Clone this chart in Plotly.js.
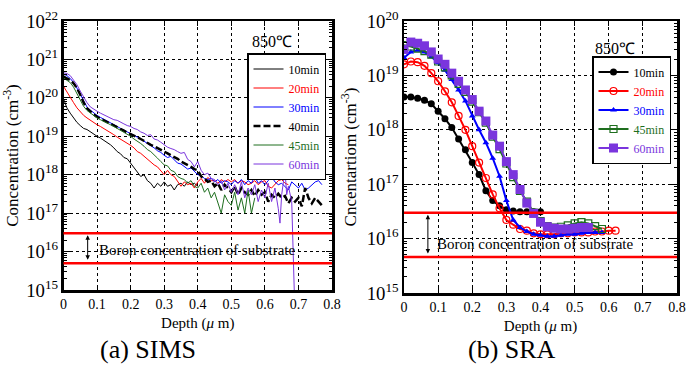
<!DOCTYPE html>
<html>
<head>
<meta charset="utf-8">
<script src="https://cdn.plot.ly/plotly-3.0.1.min.js"></script>
<style>html,body{margin:0;padding:0;background:#fff;}#chart{width:686px;height:371px;}</style>
</head>
<body>
<div id="chart"></div>
<script>
// ---------- SIMS (left) ----------
const simsDepth = [0.00,0.01,0.02,0.03,0.04,0.05,0.06,0.07,0.08,0.09,0.10,0.11,0.12,0.13,0.14,0.15,0.16,0.17,0.18,0.19,
  0.20,0.21,0.22,0.23,0.24,0.25,0.26,0.27,0.28,0.29,0.30,0.31,0.32,0.33,0.34,0.35,0.36,0.37,0.38,0.39,
  0.40,0.41,0.42,0.43,0.44,0.45,0.46,0.47,0.48,0.49,0.50,0.51,0.52,0.53,0.54,0.55,0.56,0.57,0.58,0.59,
  0.60,0.61,0.62,0.63,0.64,0.65,0.66,0.67,0.68,0.69,0.70,0.71,0.72,0.73,0.74,0.75,0.76,0.77];

const sims10 = [9.5e19,5.5e19,4.0e19,3.0e19,2.3e19,1.9e19,1.6e19,1.5e19,1.3e19,1.1e19,1.0e19,9.0e18,8.0e18,7.0e18,6.0e18,5.0e18,4.0e18,3.5e18,2.8e18,2.6e18,
  2.0e18,1.6e18,1.2e18,9.0e17,1.0e18,7.0e17,6.0e17,4.5e17,6.0e17,5.0e17,6.5e17,5.0e17,5.5e17,4.0e17,5.5e17,6.0e17,5.0e17,6.5e17,5.5e17,6.0e17,5.0e17];

const sims20 = [2.0e20,1.4e20,1.0e20,7.5e19,5.5e19,4.3e19,3.5e19,3.0e19,2.6e19,2.3e19,2.0e19,1.8e19,1.6e19,1.4e19,1.25e19,1.1e19,9.5e18,8.5e18,7.5e18,6.5e18,
  5.8e18,5.0e18,4.0e18,3.6e18,3.0e18,2.5e18,2.2e18,1.8e18,1.6e18,1.3e18,1.0e18,1.3e18,1.0e18,9.0e17,6.5e17,5.0e17,6.5e17,5.5e17,6.0e17,4.5e17,
  6.5e17,8.0e17,6.0e17,8.5e17,7.0e17,7.0e17,6.0e17,7.5e17,6.5e17,7.5e17,6.5e17,7.5e17,6.0e17,7.0e17,6.5e17,5.5e17,6.0e17,7.0e17,5.5e17,6.5e17,
  7.0e17,5.0e17,4.5e17,5.5e17,7.0e17,7.5e17,6.0e17,5.5e17];

const sims30 = [4.2e20,3.8e20,3.2e20,2.5e20,1.8e20,1.2e20,8.0e19,5.8e19,4.8e19,4.0e19,3.5e19,3.1e19,2.8e19,2.5e19,2.2e19,2.0e19,1.8e19,1.6e19,1.45e19,1.3e19,
  1.2e19,1.1e19,9.5e18,8.5e18,7.5e18,6.5e18,5.8e18,5.0e18,4.2e18,3.8e18,3.2e18,2.8e18,3.0e18,2.4e18,2.0e18,1.9e18,1.6e18,1.4e18,1.5e18,1.2e18,
  1.0e18,9.5e17,8.0e17,7.5e17,8.0e17,6.5e17,7.5e17,6.0e17,7.0e17,6.5e17,5.5e17,7.0e17,6.0e17,7.5e17,5.5e17,7.0e17,6.0e17,9.0e17,6.0e17,7.0e17,
  5.5e17,7.0e17,9.0e17,6.5e17,5.5e17,6.0e17,5.0e17,4.0e17,6.5e17,5.5e17,4.5e17,6.0e17,4.0e17,4.5e17,5.5e17,6.5e17,7.0e17,5.5e17];

const sims40 = [3.6e20,3.3e20,2.9e20,2.4e20,1.8e20,1.2e20,7.5e19,5.3e19,4.3e19,3.7e19,3.2e19,2.9e19,2.6e19,2.3e19,2.1e19,1.9e19,1.7e19,1.55e19,1.4e19,1.25e19,
  1.15e19,1.05e19,9.5e18,8.5e18,7.5e18,6.8e18,6.0e18,5.5e18,5.0e18,4.5e18,4.0e18,3.6e18,3.2e18,2.9e18,2.6e18,2.2e18,2.0e18,1.8e18,1.6e18,1.4e18,
  1.3e18,9.0e17,8.0e17,6.5e17,7.0e17,5.0e17,6.0e17,4.0e17,5.5e17,4.5e17,3.5e17,5.0e17,3.0e17,4.5e17,3.5e17,3.0e17,4.0e17,2.8e17,4.0e17,3.0e17,
  3.5e17,2.0e17,3.0e17,2.5e17,3.2e17,2.5e17,2.8e17,1.8e17,2.5e17,2.0e17,2.5e17,1.5e17,4.5e17,2.5e17,1.8e17,2.5e17,2.0e17,1.6e17];

const sims45 = [3.3e20,2.9e20,2.5e20,1.9e20,1.3e20,8.5e19,6.0e19,4.7e19,4.0e19,3.4e19,3.0e19,2.7e19,2.4e19,2.2e19,2.0e19,1.8e19,1.6e19,1.45e19,1.3e19,1.1e19,
  1.0e19,8.5e18,7.5e18,6.5e18,5.5e18,4.5e18,4.0e18,3.2e18,2.7e18,2.2e18,1.8e18,1.7e18,1.3e18,1.2e18,9.0e17,8.0e17,7.5e17,6.0e17,7.0e17,5.0e17,
  4.5e17,6.0e17,3.5e17,4.5e17,2.5e17,3.5e17,1.8e17,1.0e17,3.0e17,2.0e17,1.6e17,3.5e17,1.2e17,2.5e17,1.0e17,4.0e17,1.0e17,2.5e17];

const sims60Depth = [0.00,0.01,0.02,0.03,0.04,0.05,0.06,0.07,0.08,0.09,0.10,0.11,0.12,0.13,0.14,0.15,0.16,0.17,0.18,0.19,
  0.20,0.21,0.22,0.23,0.24,0.25,0.26,0.27,0.28,0.29,0.30,0.31,0.32,0.33,0.34,0.35,0.36,0.37,0.38,0.39,
  0.40,0.41,0.42,0.43,0.44,0.45,0.46,0.47,0.48,0.49,0.50,0.51,0.52,0.53,0.54,0.55,0.56,0.57,0.58,0.59,
  0.60,0.61,0.62,0.63,0.64,0.645,0.65,0.66,0.665,0.67,0.68,0.686,0.694];
const sims60 = [4.5e20,4.3e20,3.8e20,2.9e20,2.2e20,1.5e20,1.05e20,7.5e19,5.8e19,5.0e19,4.5e19,4.0e19,3.6e19,3.3e19,3.0e19,2.7e19,2.6e19,2.3e19,2.1e19,1.9e19,
  1.8e19,1.6e19,1.5e19,1.3e19,1.2e19,1.05e19,1.1e19,8.5e18,8.0e18,7.0e18,6.0e18,5.2e18,4.8e18,4.5e18,4.0e18,3.6e18,3.8e18,2.5e18,2.2e18,1.6e18,
  2.2e18,1.3e18,1.0e18,1.1e18,8.0e17,7.5e17,5.5e17,7.0e17,4.0e17,6.0e17,3.5e17,5.5e17,3.0e17,6.5e17,2.5e17,4.5e17,3.0e17,5.5e17,2.0e17,4.0e17,
  2.5e17,6.0e17,2.0e17,4.5e17,1.3e17,5.5e16,3.0e17,1.3e18,3.0e17,5.0e17,2.0e17,1e13,1e13];

// ---------- SRA (right) ----------
const sraDepth = [0.00,0.02,0.04,0.06,0.08,0.10,0.12,0.14,0.16,0.18,0.20,0.22,0.24,0.26,0.28,0.30,0.32,0.34,0.36,0.38,
  0.40,0.42,0.44,0.46,0.48,0.50,0.52,0.54,0.56,0.58,0.60,0.62];
const sra10 = [4.0e18,4.0e18,3.8e18,3.5e18,3.0e18,2.2e18,1.6e18,1.1e18,6.8e17,4.3e17,2.5e17,1.5e17,7.6e16,5.0e16,4.0e16,3.4e16,3.2e16,3.1e16,3.1e16,3.1e16,3.1e16];
const sra20 = [1.6e19,1.8e19,1.75e19,1.5e19,1.1e19,7.8e18,5.1e18,3.2e18,1.8e18,1.0e18,5.0e17,2.5e17,1.3e17,6.5e16,3.6e16,2.2e16,1.8e16,1.5e16,1.4e16,1.25e16,
  1.2e16,1.2e16,1.2e16,1.25e16,1.25e16,1.3e16,1.3e16,1.3e16,1.35e16,1.35e16,1.4e16,1.4e16];
const sra30 = [2.1e19,2.7e19,2.9e19,2.7e19,2.2e19,1.7e19,1.25e19,8.4e18,5.4e18,3.4e18,1.8e18,1.0e18,5.8e17,3.0e17,1.4e17,5.0e16,2.2e16,1.6e16,1.35e16,1.2e16,
  1.15e16,1.1e16,1.1e16,1.15e16,1.2e16,1.2e16,1.25e16,1.3e16,1.3e16,1.3e16];
const sra45 = [3.6e19,3.4e19,3.1e19,2.8e19,2.4e19,1.8e19,1.4e19,1.0e19,7.0e18,5.0e18,3.3e18,2.1e18,1.35e18,7.5e17,4.4e17,2.4e17,1.35e17,7.5e16,4.8e16,3.0e16,
  2.1e16,1.7e16,1.6e16,1.65e16,1.75e16,1.9e16,2.0e16,1.9e16,1.7e16,1.5e16];
const sra60 = [3.0e19,4.1e19,3.9e19,3.5e19,2.7e19,2.0e19,1.6e19,1.1e19,7.8e18,5.4e18,3.6e18,2.2e18,1.45e18,8.0e17,5.0e17,2.6e17,1.5e17,8.0e16,4.5e16,2.9e16,
  2.0e16,1.65e16,1.55e16,1.5e16,1.5e16,1.55e16,1.6e16,1.6e16];

// substrate boron concentration bounds
const simsSubstrate = [3.0e16, 5.0e15];
const sraSubstrate = [3.0e16, 4.6e15];

const labels = ['10min','20min','30min','40min','45min','60min'];
const FONT = "'Liberation Serif', 'Times New Roman', serif";
const C = {k:'#000000', r:'#ff0000', b:'#0000ff', g:'#1e6e1e', p:'#7a35dd'};
function lab(t,c){ return '<span style="color:'+c+'">'+t+'</span>'; }

const traces = [
  {x: simsDepth.slice(0, sims10.length), y: sims10, name: lab(labels[0], C.k), mode:'lines', line:{color:C.k, width:1}, xaxis:'x', yaxis:'y', legend:'legend'},
  {x: simsDepth.slice(0, sims20.length), y: sims20, name: lab(labels[1], C.r), mode:'lines', line:{color:C.r, width:1}, xaxis:'x', yaxis:'y', legend:'legend'},
  {x: simsDepth.slice(0, sims30.length), y: sims30, name: lab(labels[2], C.b), mode:'lines', line:{color:C.b, width:1}, xaxis:'x', yaxis:'y', legend:'legend'},
  {x: simsDepth.slice(0, sims40.length), y: sims40, name: lab(labels[3], C.k), mode:'lines', line:{color:C.k, width:2.5, dash:'7px,3px'}, xaxis:'x', yaxis:'y', legend:'legend'},
  {x: simsDepth.slice(0, sims45.length), y: sims45, name: lab(labels[4], C.g), mode:'lines', line:{color:C.g, width:1}, xaxis:'x', yaxis:'y', legend:'legend'},
  {x: sims60Depth, y: sims60, name: lab(labels[5], C.p), mode:'lines', line:{color:C.p, width:1}, xaxis:'x', yaxis:'y', legend:'legend'},

  {x: sraDepth.slice(0, sra10.length), y: sra10, name: lab(labels[0], C.k), mode:'lines+markers', line:{color:C.k, width:2}, marker:{symbol:'circle', size:7, color:C.k}, xaxis:'x2', yaxis:'y2', legend:'legend2'},
  {x: sraDepth.slice(0, sra20.length), y: sra20, name: lab(labels[1], C.r), mode:'lines+markers', line:{color:C.r, width:2}, marker:{symbol:'circle-open', size:7, color:C.r, line:{width:1.2}}, xaxis:'x2', yaxis:'y2', legend:'legend2'},
  {x: sraDepth.slice(0, sra30.length), y: sra30, name: lab(labels[2], C.b), mode:'lines+markers', line:{color:C.b, width:2}, marker:{symbol:'triangle-up', size:6, color:C.b}, xaxis:'x2', yaxis:'y2', legend:'legend2'},
  {x: sraDepth.slice(0, sra45.length), y: sra45, name: lab(labels[4], C.g), mode:'lines+markers', line:{color:C.g, width:2}, marker:{symbol:'square-open', size:7, color:C.g, line:{width:1.2}}, xaxis:'x2', yaxis:'y2', legend:'legend2'},
  {x: sraDepth.slice(0, sra60.length), y: sra60, name: lab(labels[5], C.p), mode:'lines+markers', line:{color:C.p, width:2}, marker:{symbol:'square', size:9, color:C.p}, xaxis:'x2', yaxis:'y2', legend:'legend2'}
];

const W = 686, H = 371;
const xAxisBase = {
  range:[0,0.8], dtick:0.1, tick0:0, ticks:'inside', ticklen:5, tickwidth:1, tickcolor:'#000',
  showline:true, linewidth:2.5, linecolor:'#000', mirror:'ticks',
  showgrid:true, gridcolor:'#000', griddash:'dot', gridwidth:1, zeroline:false,
  tickfont:{family:FONT, size:14, color:'#000'}, automargin:false,
  title:{text:'Depth (<i>μ</i> m)', font:{family:FONT, size:15, color:'#000'}, standoff:6}
};
const yAxisBase = {
  type:'log', dtick:1, exponentformat:'power', ticks:'inside', ticklen:6, tickwidth:1, tickcolor:'#000',
  minor:{ticks:'inside', ticklen:3, tickcolor:'#000', showgrid:false},
  showline:true, linewidth:2.5, linecolor:'#000', mirror:'ticks',
  showgrid:true, gridcolor:'#000', griddash:'dot', gridwidth:1, zeroline:false,
  tickfont:{family:FONT, size:15, color:'#000'}, automargin:false
};

const layout = {
  width:W, height:H, margin:{l:0, r:0, t:0, b:0},
  paper_bgcolor:'#fff', plot_bgcolor:'#fff',
  font:{family:FONT, size:14, color:'#000'},
  xaxis: Object.assign({}, xAxisBase, {domain:[63.5/W, 332/W], anchor:'y'}),
  yaxis: Object.assign({}, yAxisBase, {domain:[(H-290)/H, (H-21)/H], range:[15,22], anchor:'x',
         title:{text:'Concentration (cm<sup>-3</sup>)', font:{family:FONT, size:17, color:'#000'}, standoff:6}}),
  xaxis2: Object.assign({}, xAxisBase, {domain:[404/W, 677/W], anchor:'y2'}),
  yaxis2: Object.assign({}, yAxisBase, {domain:[(H-293)/H, (H-21)/H], range:[15,20], anchor:'x2',
         title:{text:'Cncentartiom (cm<sup>-3</sup>)', font:{family:FONT, size:17, color:'#000'}, standoff:6}}),
  legend:{x:247/W, y:(H-53)/H, xanchor:'left', yanchor:'top', bgcolor:'#fff', bordercolor:'#000', borderwidth:1.5,
          font:{family:FONT, size:12, color:'#000'}, itemwidth:30, tracegroupgap:0},
  legend2:{x:592/W, y:(H-56)/H, xanchor:'left', yanchor:'top', bgcolor:'#fff', bordercolor:'#000', borderwidth:1.5,
          font:{family:FONT, size:12, color:'#000'}, itemwidth:30, tracegroupgap:0},
  shapes:[
    {type:'line', xref:'x domain', yref:'y', x0:0, x1:1, y0:simsSubstrate[0], y1:simsSubstrate[0], line:{color:'#ff0000', width:2.5}},
    {type:'line', xref:'x domain', yref:'y', x0:0, x1:1, y0:simsSubstrate[1], y1:simsSubstrate[1], line:{color:'#ff0000', width:2.5}},
    {type:'line', xref:'x2 domain', yref:'y2', x0:0, x1:1, y0:sraSubstrate[0], y1:sraSubstrate[0], line:{color:'#ff0000', width:2.5}},
    {type:'line', xref:'x2 domain', yref:'y2', x0:0, x1:1, y0:sraSubstrate[1], y1:sraSubstrate[1], line:{color:'#ff0000', width:2.5}}
  ],
  annotations:[
    {xref:'x', yref:'y', x:0.072, y:Math.log10(simsSubstrate[0]), axref:'x', ayref:'y', ax:0.072, ay:Math.log10(simsSubstrate[1]),
     text:'', showarrow:true, arrowside:'end+start', arrowhead:2, arrowsize:0.9, arrowwidth:1, standoff:2, startstandoff:2, arrowcolor:'#000'},
    {xref:'x2', yref:'y2', x:0.07, y:Math.log10(sraSubstrate[0]), axref:'x2', ayref:'y2', ax:0.07, ay:Math.log10(sraSubstrate[1]),
     text:'', showarrow:true, arrowside:'end+start', arrowhead:2, arrowsize:0.9, arrowwidth:1, standoff:2, startstandoff:2, arrowcolor:'#000'},
    {xref:'x', yref:'y', x:0.10, y:16.03, xanchor:'left', yanchor:'middle', showarrow:false,
     text:'Boron concentration of substrate', font:{family:FONT, size:15, color:'#000'}},
    {xref:'x2', yref:'y2', x:0.092, y:15.9, xanchor:'left', yanchor:'middle', showarrow:false,
     text:'Boron concentration of substrate', font:{family:FONT, size:15, color:'#000'}},
    {xref:'paper', yref:'paper', x:272/W, y:(H-42)/H, xanchor:'center', yanchor:'middle', showarrow:false,
     text:'850℃', font:{family:FONT, size:16, color:'#000'}},
    {xref:'paper', yref:'paper', x:615/W, y:(H-49)/H, xanchor:'center', yanchor:'middle', showarrow:false,
     text:'850℃', font:{family:FONT, size:16, color:'#000'}},
    {xref:'paper', yref:'paper', x:148/W, y:(H-349)/H, xanchor:'center', yanchor:'middle', showarrow:false,
     text:'(a) SIMS', font:{family:FONT, size:26, color:'#000'}},
    {xref:'paper', yref:'paper', x:512/W, y:(H-349)/H, xanchor:'center', yanchor:'middle', showarrow:false,
     text:'(b) SRA', font:{family:FONT, size:26, color:'#000'}}
  ]
};

Plotly.newPlot('chart', traces, layout, {staticPlot:true, displayModeBar:false});
</script>
</body>
</html>
